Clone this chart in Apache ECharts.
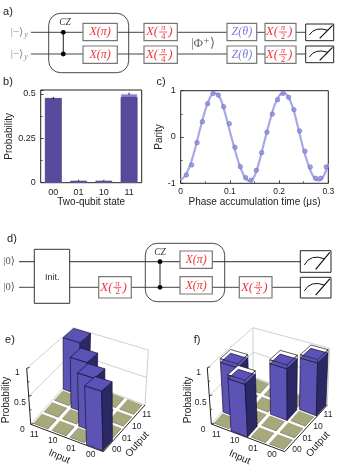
<!DOCTYPE html>
<html><head><meta charset="utf-8">
<style>html,body{margin:0;padding:0;background:#fff}#c{width:338px;height:469px}</style>
<script src="https://cdn.jsdelivr.net/npm/echarts@6/dist/echarts.min.js"></script>
</head><body><div id="c"></div>
<script>
// ---- panel b data ----
const stateLabels = ['00','01','10','11'];
const probUpper = [0.476,0.013,0.013,0.5];
const probLower = [0.476,0.009,0.009,0.481];
const probErr = [0.006,0.003,0.003,0.006];
const probTicks = ['0','0.25','0.5'];
// ---- panel c data ----
const parityTime = [0.0115,0.0223,0.0332,0.044,0.0548,0.0657,0.0765,0.0873,0.0988,0.1103,0.1212,0.132,0.1428,0.1537,0.1645,0.1753,0.1862,0.197,0.2078,0.2193,0.2302,0.2417,0.2525,0.2633,0.2742,0.2843,0.2958];
const parityValue = [-0.82,-0.604,-0.122,0.331,0.719,0.942,0.906,0.655,0.288,-0.223,-0.64,-0.878,-0.935,-0.719,-0.338,0.101,0.496,0.806,0.942,0.856,0.59,0.13,-0.309,-0.647,-0.892,-0.892,-0.647];
const fitTime = [0,0.01,0.02,0.03,0.04,0.05,0.06,0.068,0.08,0.09,0.1,0.11,0.12,0.13,0.14,0.15,0.16,0.17,0.18,0.19,0.2,0.21,0.22,0.23,0.24,0.25,0.26,0.27,0.28,0.29,0.3];
const fitValue = [-0.93,-0.82,-0.58,-0.22,0.2,0.58,0.86,0.95,0.84,0.52,0.12,-0.27,-0.62,-0.86,-0.95,-0.84,-0.52,-0.1,0.3,0.66,0.89,0.95,0.84,0.56,0.14,-0.28,-0.62,-0.86,-0.94,-0.85,-0.58];
// ---- panels e, f data: [input index, output index, measured, ideal] (index 0 = '00') ----
const truthLabels = ['00','01','10','11'];
const truthE = [[3,3,1.0,1.0],[2,2,0.93,0.93],[1,1,0.94,0.94],[0,0,1.0,1.0]];
const truthF = [[3,1,0.91,0.98],[1,2,0.91,0.98],[0,3,0.92,0.98],[2,0,0.91,0.98]];

const FONT='"Liberation Sans",Arial,sans-serif', MATH='"Liberation Serif","DejaVu Serif",serif';
const RED='#f0353a', BLUE='#7b7bdc', WIRE='#444', BOXB='#777';
const g=[];
const line=(x1,y1,x2,y2,stroke=WIRE,lineWidth=1,z=1)=>g.push({type:'line',z,shape:{x1,y1,x2,y2},style:{stroke,lineWidth}});
const rect=(x,y,w,h,stroke=BOXB,lineWidth=1.2,r=0,z=2,fill='#fff')=>g.push({type:'rect',z,shape:{x,y,width:w,height:h,r},style:{fill,stroke,lineWidth}});
const text=(x,y,t,o={})=>g.push({type:'text',z:o.z||5,x,y,rotation:o.rot||0,style:{text:t,fill:o.fill||'#222',font:(o.font||'10px '+FONT),align:o.align||'center',verticalAlign:'middle'}});
const dot=(cx,cy)=>g.push({type:'circle',z:4,shape:{cx,cy,r:2.4},style:{fill:'#000'}});

function gateSimple(x,y,w,h,sym,col,arg){
  rect(x,y,w,h);
  text(x+w/2,y+h/2,sym+'('+arg+')',{fill:col,font:'italic 12px '+MATH});
}
function gateFrac(x,y,w,h,den){
  rect(x,y,w,h);
  const c=x+w/2, m=y+h/2;
  text(c-2.5,m,'X(',{fill:RED,font:'italic 13px '+MATH,align:'right'});
  text(c+2.5,m-4,'π',{fill:RED,font:'italic 9px '+MATH});
  g.push({type:'line',z:5,shape:{x1:c-1.5,y1:m,x2:c+6.5,y2:m},style:{stroke:RED,lineWidth:0.8}});
  text(c+2.5,m+4.5,den,{fill:RED,font:'9px '+MATH});
  text(c+7.5,m,')',{fill:RED,font:'italic 13px '+MATH,align:'left'});
}
function meter(x,y,w,h){
  rect(x,y,w,h,'#222',1);
  g.push({type:'bezierCurve',z:4,shape:{x1:x+w*0.13,y1:y+h*0.66,cpx1:x+w*0.33,cpy1:y+h*0.12,x2:x+w*0.8,y2:y+h*0.38},style:{stroke:'#111',lineWidth:1,fill:'none'}});
  line(x+w*0.5,y+h*0.86,x+w*0.96,y+h*0.08,'#111',1.2,4);
}
// panel a
text(8,12,'a)',{font:'11px '+FONT});
line(31,32.3,306,32.3); line(31,54,306,54);
text(17,32,'|−⟩',{fill:'#888',font:'11px '+MATH}); text(17,54,'|−⟩',{fill:'#888',font:'11px '+MATH});
text(26,35,'y',{fill:'#888',font:'italic 8px '+MATH}); text(26,57,'y',{fill:'#888',font:'italic 8px '+MATH});
rect(48.7,13.3,80,59.4,'#333',0.9,12,1,'transparent');
text(65,22.7,'CZ',{font:'italic 9.5px '+MATH,fill:'#333'});
line(63.3,32.3,63.3,54,'#333',1.1,3); dot(63.3,32.3); dot(63.3,54);
gateSimple(83,23.3,34.3,17.4,'X',RED,'π'); gateSimple(83,46,34.3,17.4,'X',RED,'π');
gateFrac(144,23.3,33.3,17.4,'4'); gateFrac(144,46,33.3,17.4,'4');
text(203,43.5,'|Φ⁺⟩',{fill:'#666',font:'13px '+MATH});
gateSimple(227,23.3,29.7,17.4,'Z',BLUE,'θ'); gateSimple(227,46,29.7,17.4,'Z',BLUE,'θ');
gateFrac(265,23.3,31,17.4,'2'); gateFrac(265,46,31,17.4,'2');
meter(305.7,24,28,16.7); meter(305.7,46,28,16.7);
// panel b, c letters
text(8,82,'b)',{font:'11px '+FONT}); text(161,82,'c)',{font:'11px '+FONT});
// panel d
text(12,239,'d)',{font:'11px '+FONT});
line(19,261.7,301,261.7,'#555',1.3); line(19,287.3,301,287.3,WIRE,1);
text(9,261,'|0⟩',{fill:'#555',font:'10.5px '+MATH}); text(9,287,'|0⟩',{fill:'#555',font:'10.5px '+MATH});
rect(34.3,249.3,35.4,54,'#333',1);
text(52.3,277.3,'Init.',{font:'9px '+FONT,fill:'#333'});
gateFrac(98.7,276.7,32.6,21.3,'2');
rect(145.3,243.3,79.4,58.4,'#333',0.9,12,1,'transparent');
text(160,252.5,'CZ',{font:'italic 9.5px '+MATH,fill:'#333'});
line(160,261.7,160,287.3,'#333',1.1,3); dot(160,261.7); dot(160,287.3);
gateSimple(180,251,32.3,17.3,'X',RED,'π'); gateSimple(180,276.7,32.3,17.3,'X',RED,'π');
gateFrac(239.3,276.7,32.7,21.3,'2');
meter(300.3,250.7,30.7,21.6); meter(300.3,277.3,30.7,20.7);

// ---- 3D panels ----
const panelE={F:[103.3,451.7],L:[30.7,424.3],R:[145,405],B:[72.3,377.7],Ft:[102,392],Lt:[26.7,368.3],Rt:[148.3,350],Bt:[73.3,327.7]};
const panelF={F:[284.7,451.7],L:[211.3,424],R:[327.3,405],B:[253,376.7],Ft:[283,392],Lt:[207.3,367.7],Rt:[329.7,348.3],Bt:[253,327.7]};
function proj(P,u,v,h){
  const bil=(a,b,c,d,i)=>a[i]*(1-u)*(1-v)+b[i]*u*(1-v)+c[i]*(1-u)*v+d[i]*u*v;
  const x0=bil(P.F,P.L,P.R,P.B,0),y0=bil(P.F,P.L,P.R,P.B,1);
  const x1=bil(P.Ft,P.Lt,P.Rt,P.Bt,0),y1=bil(P.Ft,P.Lt,P.Rt,P.Bt,1);
  return [x0+(x1-x0)*h,y0+(y1-y0)*h];
}
function walls(P){
  const l=(a,b,c='#c4c4c4',w=0.8)=>line(a[0],a[1],b[0],b[1],c,w,0);
  l(P.L,P.B);l(P.B,P.R);l(P.B,P.Bt);l(P.Lt,P.Bt);l(P.Bt,P.Rt);l(P.R,P.Rt);
  const m=h=>[proj(P,1,0,h),proj(P,1,1,h),proj(P,0,1,h)];
  const a=m(0.5); l(a[0],a[1]); l(a[1],a[2]);
  l(P.L,P.F,'#222',1); l(P.F,P.R,'#222',1); l(P.L,P.Lt,'#222',1);
  [0,0.25,0.5,0.75,1].forEach(h=>{const p=proj(P,1,0,h);const s=h%0.5===0?3:1.8;line(p[0],p[1],p[0]+s,p[1]-0.9,'#222',0.8,0);});
}
walls(panelE); walls(panelF);
const T3={font:'8.5px '+FONT,fill:'#222'}, N3={font:'10px '+FONT,fill:'#222'};
function labels3d(px,zs,ins,outs,ix,iy,ox,oy){
  text(px,400,'Probability',{...N3,rot:Math.PI/2});
  ['1','0.5','0'].forEach((t,i)=>text(zs[i],[372.7,402.3,430][i],t,T3));
  truthLabels.slice().reverse().forEach((t,i)=>text(ins[i],[434.3,441,448.3,455][i],t,T3));
  truthLabels.forEach((t,i)=>text(outs[i],[450,438.3,426.7,415][i],t,T3));
  text(ix,iy,'Input',{...N3,rot:-0.42}); text(ox,oy,'Output',{...N3,rot:0.85});
}
text(10,340,'e)',{font:'11px '+FONT}); text(197,340,'f)',{font:'11px '+FONT});
labels3d(6.7,[17.3,20,22.3],[34.3,52.7,71,90.7],[116.7,126.7,136.7,146.7],59.3,456.7,137.3,444.3);
labels3d(188.7,[198.7,200.7,203],[216.3,234.7,253,272],[297,307.3,318,328],239.7,457.3,318,444.3);

// full 4x4 table for one panel; ordering back-to-front so that nearer bars hide farther ones
function cells(bars){
  const out=[];
  for(let i=3;i>=0;i--)for(let j=3;j>=0;j--){
    const b=bars.find(r=>r[0]===i&&r[1]===j);
    out.push(b?b.slice():[i,j,0,0]);
  }
  return out;
}
function prism(P,u0,u1,v0,v1,h0,h1,c){
  const pts=(a)=>({type:'polygon',shape:{points:a.pts},style:a.style});
  const A=proj(P,u0,v0,h0),B=proj(P,u1,v0,h0),C=proj(P,u0,v1,h0);
  const At=proj(P,u0,v0,h1),Bt=proj(P,u1,v0,h1),Ct=proj(P,u0,v1,h1),Dt=proj(P,u1,v1,h1);
  const st=(fill,stroke,lineWidth)=>({fill,stroke,lineWidth,lineJoin:'round'});
  return [
    pts({pts:[A,B,Bt,At],style:st(c.left,c.edge,c.w)}),
    pts({pts:[A,C,Ct,At],style:st(c.right,c.edge,c.w)}),
    pts({pts:[At,Bt,Dt,Ct],style:st(c.top,c.edge,c.w)})
  ];
}
const BAR={left:'#5d53b4',right:'#2c2863',top:'#5a52b6',edge:'#15123a',w:0.7};
const TILE={left:'#6f7050',right:'#55563c',top:'#a7a87c',edge:'#77785a',w:0.25};
const GHOST={left:'rgba(255,255,255,0)',right:'rgba(255,255,255,0)',top:'#ffffff',edge:'#1a1a1a',w:0.7};
function render3d(P){
  return function(params,api){
    const i=api.value(0),j=api.value(1),val=api.value(2),ideal=api.value(3);
    const m=val>0?0.012:0.028;
    const u0=i*0.25+m,u1=i*0.25+0.25-m,v0=j*0.25+m,v1=j*0.25+0.25-m;
    let ch=[];
    if(val>0){
      if(ideal>val) ch=ch.concat(prism(P,u0,u1,v0,v1,val,ideal,GHOST).slice(2));
      ch=ch.concat(prism(P,u0,u1,v0,v1,0,val,BAR));
      if(ideal>val){
        const a=proj(P,u0,v0,ideal),b=proj(P,u1,v0,ideal),c=proj(P,u0,v1,ideal);
        const a0=proj(P,u0,v0,val),b0=proj(P,u1,v0,val),c0=proj(P,u0,v1,val);
        [[a,b],[a,c],[a,a0],[b,b0],[c,c0]].forEach(q=>ch.push({type:'line',shape:{x1:q[0][0],y1:q[0][1],x2:q[1][0],y2:q[1][1]},style:{stroke:'#1a1a1a',lineWidth:0.6}}));
      }
    } else {
      ch=prism(P,u0,u1,v0,v1,0,0.012,TILE);
    }
    return {type:'group',children:ch};
  };
}

const chart=echarts.init(document.getElementById('c'),null,{renderer:'canvas'});
const axisLine={show:false,onZero:false};
const label={color:'#222',fontFamily:'Liberation Sans',fontSize:8.5};
const tick=()=>({show:true,inside:true,length:3,lineStyle:{color:'#222',width:0.8}});
const minor={show:true,splitNumber:2,length:2,lineStyle:{color:'#222',width:0.7}};
const nameSt={color:'#222',fontFamily:'Liberation Sans',fontSize:10};
chart.setOption({
  animation:false,
  backgroundColor:'#fff',
  graphic:{elements:g},
  grid:[
    {left:40.7,top:90,width:101,height:92.7,show:true,borderColor:'#222',borderWidth:1,backgroundColor:'transparent'},
    {left:180.7,top:90.7,width:147.6,height:92.6,show:true,borderColor:'#222',borderWidth:1,backgroundColor:'transparent'}
  ],
  xAxis:[
    {gridIndex:0,type:'category',data:stateLabels,axisLine,axisTick:{show:false},axisLabel:{...label,fontSize:9,margin:5},
     name:'Two-qubit state',nameLocation:'middle',nameGap:13,nameTextStyle:nameSt},
    {gridIndex:1,type:'value',min:0,max:0.3,interval:0.1,axisLine,axisTick:tick(),minorTick:minor,splitLine:{show:false},
     axisLabel:{...label,margin:4,hideOverlap:false,formatter:v=>v===0?'0':+v.toFixed(1)+''},
     name:'Phase accumulation time (μs)',nameLocation:'middle',nameGap:13,nameTextStyle:nameSt}
  ],
  yAxis:[
    {gridIndex:0,type:'value',min:0,max:0.5215,interval:0.25,axisLine,axisTick:tick(),minorTick:minor,splitLine:{show:false},
     axisLabel:{...label,fontSize:9,margin:5,showMaxLabel:false,formatter:v=>{const t=+v.toFixed(2)+'';return probTicks.includes(t)?t:''}},
     name:'Probability',nameLocation:'middle',nameGap:24,nameTextStyle:nameSt},
    {gridIndex:1,type:'value',min:-1,max:1,interval:1,axisLine,axisTick:tick(),minorTick:minor,splitLine:{show:false},
     axisLabel:{...label,fontSize:9,margin:5},
     name:'Parity',nameLocation:'middle',nameGap:13,nameTextStyle:nameSt}
  ],
  series:[
    {type:'bar',xAxisIndex:0,yAxisIndex:0,data:probUpper,barWidth:'66%',barGap:'-100%',z:2,
     itemStyle:{color:'#8877e6',borderColor:'#c9c9cf',borderWidth:0.8},silent:true},
    {type:'bar',xAxisIndex:0,yAxisIndex:0,data:probLower,barWidth:'66%',barGap:'-100%',z:3,
     itemStyle:{color:'#5a4a9e',borderColor:'#3d3374',borderWidth:0.5},silent:true},
    {type:'custom',xAxisIndex:0,yAxisIndex:0,z:4,silent:true,
     data:stateLabels.map((s,i)=>[i,probUpper[i],probErr[i]]),
     encode:{x:0,y:1},
     renderItem(p,api){
       const i=api.value(0),v=api.value(1),e=api.value(2);
       const a=api.coord([i,v-e]),b=api.coord([i,v+e]);
       return {type:'line',shape:{x1:a[0],y1:a[1],x2:b[0],y2:b[1]},style:{stroke:'#111',lineWidth:1}};
     }},
    {type:'line',xAxisIndex:1,yAxisIndex:1,data:fitTime.map((t,i)=>[t,fitValue[i]]),smooth:0.35,showSymbol:false,
     lineStyle:{color:'#a9a9e4',width:2.2},z:2,silent:true},
    {type:'scatter',xAxisIndex:1,yAxisIndex:1,data:parityTime.map((t,i)=>[t,parityValue[i]]),symbolSize:4.5,
     itemStyle:{color:'#8c8cdc',borderColor:'#6a6ac8',borderWidth:0.7},z:3,silent:true},
    {type:'custom',coordinateSystem:'none',data:cells(truthE),renderItem:render3d(panelE),z:3,silent:true,encode:{}},
    {type:'custom',coordinateSystem:'none',data:cells(truthF),renderItem:render3d(panelF),z:3,silent:true,encode:{}}
  ]
});
</script></body></html>
